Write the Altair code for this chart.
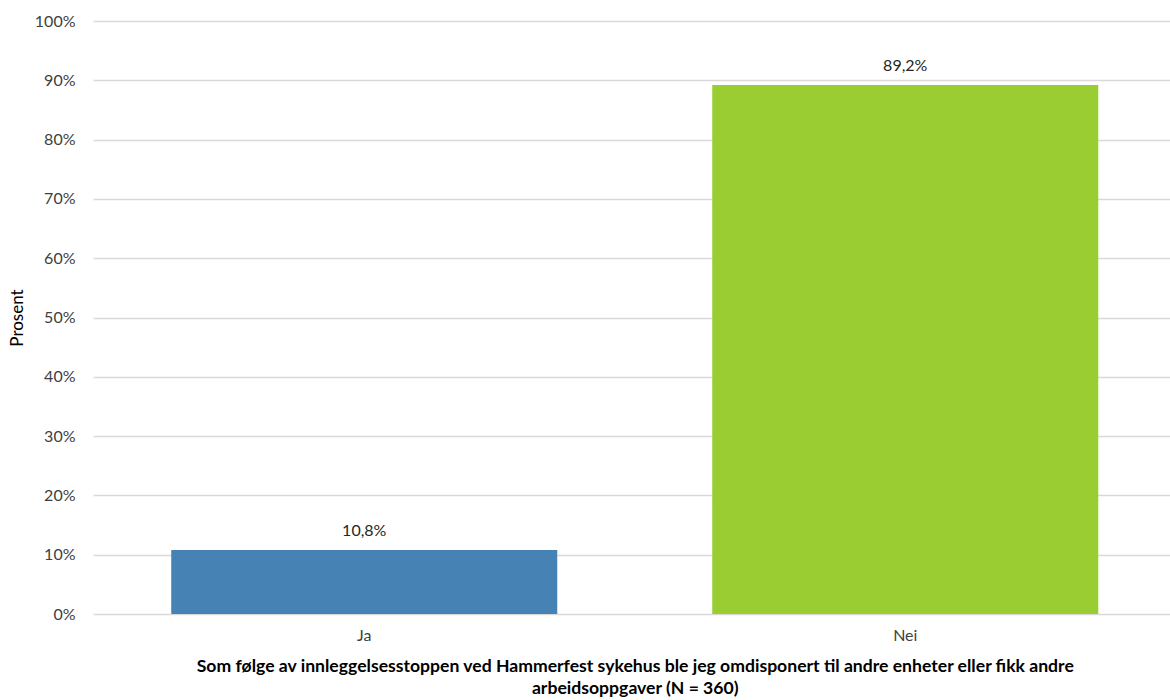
import altair as alt
import pandas as pd

categories = ["Ja", "Nei"]
values = [10.8, 89.2]
colors = ["#4682B4", "#9ACD32"]

df = pd.DataFrame({"svar": categories, "pct": values, "farge": colors})

FONT = "Lato"

base = alt.Chart(df).encode(
    x=alt.X(
        "svar:N",
        sort=categories,
        scale=alt.Scale(paddingInner=0.2865, paddingOuter=0.1446, range=[0, 1083.5]),
        axis=alt.Axis(
            title=["Som følge av innleggelsesstoppen ved Hammerfest sykehus ble jeg omdisponert til andre enheter eller fikk andre",
                   "arbeidsoppgaver (N = 360)"],
            labelAngle=0,
            labelFont=FONT,
            labelFontSize=16,
            labelColor="#404040",
            labelPadding=13,
            ticks=False,
            domain=False,
            grid=False,
            titleFont=FONT,
            titleFontSize=17.6,
            titleFontWeight="bold",
            titleColor="#000000",
            titleLineHeight=22,
            titlePadding=14,
        ),
    ),
    y=alt.Y(
        "pct:Q",
        scale=alt.Scale(domain=[0, 100]),
        axis=alt.Axis(
            title="Prosent",
            values=[0, 10, 20, 30, 40, 50, 60, 70, 80, 90, 100],
            labelExpr="datum.value + '%'",
            labelFont=FONT,
            labelFontSize=16,
            labelColor="#404040",
            labelPadding=18,
            ticks=False,
            domain=False,
            gridColor="#d9d9d9",
            gridWidth=1.5,
            titleFont=FONT,
            titleFontSize=17,
            titleFontWeight="normal",
            titleColor="#000000",
            titleX=-76,
            titleY=296.5,
            titleAlign="center",
            titleBaseline="middle",
        ),
    ),
)

bars = base.mark_bar().encode(color=alt.Color("farge:N", scale=None))

labels = base.transform_calculate(
    lbl="replace(format(datum.pct, '.1f'), '.', ',') + '%'"
).mark_text(font=FONT, fontSize=16, color="#262626", baseline="middle", dy=-19).encode(
    text="lbl:N"
)

chart = (
    (bars + labels)
    .properties(width=1077, height=593, autosize=alt.AutoSizeParams(type="none"),
                padding={"left": 93, "top": 21, "right": 0, "bottom": 86},
                background="white")
    .configure_view(stroke=None, strokeWidth=0)
)

chart.save("out.html", embed_options={"renderer": "svg", "actions": False})
